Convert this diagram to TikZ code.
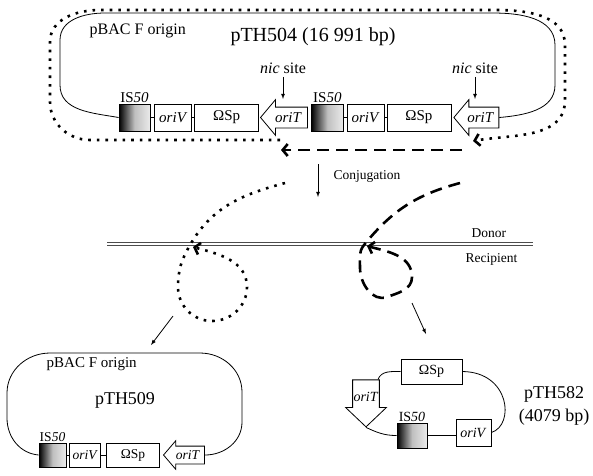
\documentclass[tikz,border=0pt]{standalone}
\usepackage{fontspec}
\setmainfont{Liberation Serif}
\usepackage{tikz}
\usetikzlibrary{positioning}
\usetikzlibrary{shapes.arrows}
\usetikzlibrary{arrows.meta}

\begin{document}
\begin{tikzpicture}
    [
    x=1pt, y=1pt, line width=0.8pt,
    gene/.style={draw, inner sep=0pt},
    ins/.style={gene, left color=black, right color=black!8, middle color=black!25},
    orit/.style={single arrow, draw, inner xsep=1pt, text depth=0pt},
    big/.style={font=\fontsize{15}{18}\selectfont},
    mid/.style={font=\fontsize{14}{17}\selectfont},
    small/.style={font=\fontsize{13.5}{16}\selectfont},
    dotline/.style={line width=2.6pt, dash pattern=on 2.6pt off 6pt},
    dashline/.style={line width=2.6pt, dash pattern=on 12pt off 7pt},
    barb/.style={-{Straight Barb[length=5pt,width=12pt]}}
    ]
    \useasboundingbox (0,0) rectangle (593,-475);

    \node (is1) at (134.5,-117.5) [ins, minimum width=31pt, minimum height=27pt, label={[inner sep=0.5pt, big]above:IS\textit{50}}] {};
    \node (orv1) [gene, big, minimum width=37pt, minimum height=27pt, right=4pt of is1] {\textit{oriV}};
    \node (sp1) [gene, big, minimum width=64pt, minimum height=27pt, right=2pt of orv1] {ΩSp};
    \node (ort1) [orit, big, shape border rotate=180, minimum height=47pt, text height=10pt, inner ysep=5pt, single arrow head extend=7.5pt, single arrow tip angle=100, right=1pt of sp1] {\textit{oriT}};
    \node (is2) [ins, minimum width=32pt, minimum height=27pt, right=3pt of ort1, label={[inner sep=0.5pt, big]above:IS\textit{50}}] {};
    \node (orv2) [gene, big, minimum width=37pt, minimum height=27pt, right=3pt of is2] {\textit{oriV}};
    \node (sp2) [gene, big, minimum width=64pt, minimum height=27pt, right=2pt of orv2] {ΩSp};
    \node (ort2) [orit, big, shape border rotate=180, minimum height=45pt, text height=10pt, inner ysep=5pt, single arrow head extend=7.5pt, single arrow tip angle=100, right=2pt of sp2] {\textit{oriT}};
    \draw (is1) -- (orv1);
    \draw (orv1) -- (sp1);
    \draw (is2) -- (orv2);
    \draw (orv2) -- (sp2);
    \draw (is1.west) to[out=170,in=270] (60,-85) -- (60,-40) to[out=90,in=180] (105,-13) -- (493,-13) to[out=0,in=90] (555,-45) -- (555,-85) to[out=270,in=5] (ort2.east);

    \node (pbac1) at (86,-34) [anchor=base west, font=\fontsize{16}{19}\selectfont] {pBAC F origin};
    \node (t504) at (313,-41) [anchor=base, font=\fontsize{20}{24}\selectfont] {pTH504 (16 991 bp)};
    \node (nic1) at (283,-73) [anchor=base, font=\fontsize{16}{19}\selectfont] {\textit{nic} site};
    \node (nic2) at (475,-73) [anchor=base, font=\fontsize{16}{19}\selectfont] {\textit{nic} site};
    \coordinate (nicend1) at (283,-99);
    \coordinate (nicend2) at (475,-99);
    \draw [-latex] (nic1) -- (nicend1);
    \draw [-latex] (nic2) -- (nicend2);

    \draw [dotline, barb] (280,-140) -- (90,-140) to[out=180,in=270] (50,-102) -- (50,-42) to[out=90,in=180] (100,-10) -- (495,-10) to[out=0,in=90] (565,-45) -- (565,-100) to[out=270,in=10] (473,-141);
    \draw [dashline, barb] (462,-150) -- (281,-150);

    \coordinate (cj1) at (318,-164);
    \coordinate (cj2) at (318,-197);
    \draw [-latex] (cj1) -- (cj2);
    \node (conj) at (330,-179) [anchor=base west, small] {Conjugation};

    \coordinate (m1) at (107,-243.7);
    \coordinate (m2) at (533,-243.7);
    \draw [double, double distance=2.4pt, line width=0.8pt, black!70] (m1) -- (m2);
    \node (donor) at (468,-237) [anchor=base west, small] {Donor};
    \node (recip) at (462,-262) [anchor=base west, small] {Recipient};

    \draw [dotline, barb] (285,-183) to[out=195,in=60] (190,-245) to[out=240,in=90] (178,-287) to[out=270,in=180] (212,-321) to[out=0,in=270] (247,-287) to[out=90,in=-15] (193,-247);
    \draw [dashline, barb] (460,-183) to[out=195,in=51] (364,-245) to[out=231,in=90] (360,-268) to[out=270,in=200] (387,-297) to[out=20,in=270] (412,-277) to[out=90,in=-15] (367,-246);

    \coordinate (a1) at (173,-316);
    \coordinate (a2) at (151,-345);
    \coordinate (b1) at (412,-303);
    \coordinate (b2) at (426,-334);
    \draw [-latex] (a1) -- (a2);
    \draw [-latex] (b1) -- (b2);

    \node (is4) at (52.5,-455) [ins, minimum width=27pt, minimum height=24pt, label={[inner sep=0.5pt, small]above:IS\textit{50}}] {};
    \node (orv4) [gene, small, minimum width=31pt, minimum height=24pt, right=3pt of is4] {\textit{oriV}};
    \node (sp4) [gene, small, minimum width=53pt, minimum height=24pt, right=5pt of orv4] {ΩSp};
    \node (ort4) [orit, small, shape border rotate=180, minimum height=41pt, text height=9pt, inner ysep=4pt, single arrow head extend=5.5pt, single arrow tip angle=99, right=3pt of sp4] {\textit{oriT}};
    \draw (is4) -- (orv4);
    \draw (orv4) -- (sp4);
    \draw (is4.west) to[out=175,in=270] (7,-418) -- (7,-393) to[out=90,in=180] (50,-353) -- (200,-353) to[out=0,in=90] (242,-392) -- (242,-422) to[out=270,in=0] (ort4.east);
    \node (pbac2) at (43,-367) [anchor=base west, font=\fontsize{15}{18}\selectfont] {pBAC F origin};
    \node (t509) at (125,-404) [anchor=base, font=\fontsize{18}{22}\selectfont] {pTH509};

    \node (sp3) at (431.5,-371.5) [gene, mid, minimum width=61pt, minimum height=25pt] {ΩSp};
    \node (orv3) at (473.5,-432.5) [gene, mid, minimum width=35pt, minimum height=27pt] {\textit{oriV}};
    \node (is3) at (412,-435.5) [ins, minimum width=30pt, minimum height=25pt, label={[inner sep=0.5pt, mid]above:IS\textit{50}}] {};
    \node (ort3) at (366,-397) [orit, mid, shape border rotate=270, minimum height=47pt, inner xsep=0.5pt, inner ysep=0.5pt, single arrow head extend=7pt, single arrow tip angle=93] {\textit{oriT}};
    \draw (sp3.west) to[out=180,in=70] ([xshift=12pt]ort3.tail);
    \draw (ort3.tip) to[out=-25,in=180] (is3.west);
    \draw (is3.east) -- (is3.east -| orv3.west);
    \draw (sp3.east) .. controls (510,-372) and (515,-425) .. (orv3.east);
    \node (t582) at (554,-398) [anchor=base, font=\fontsize{18}{22}\selectfont] {pTH582};
    \node (bp582) at (554,-421) [anchor=base, font=\fontsize{18}{22}\selectfont] {(4079 bp)};
  \end{tikzpicture}
\end{document}
